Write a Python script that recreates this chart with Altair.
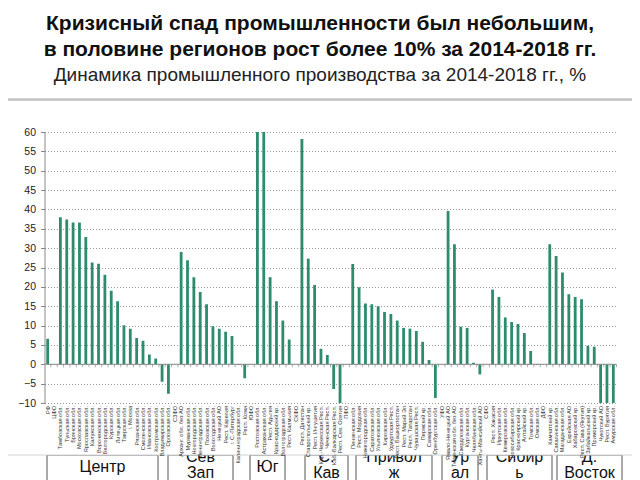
import altair as alt
import pandas as pd

# ---------------- data ----------------
categories = [
    "РФ", "ЦФО",
    "Тамбовская обл.", "Тульская обл.", "Брянская обл.", "Московская обл.", "Ярославская обл.",
    "Калужская обл.", "Воронежская обл.", "Белгородская обл.", "Курская обл.", "Липецкая обл.",
    "Тверская обл.", "г. Москва", "Рязанская обл.", "Смоленская обл.", "Ивановская обл.",
    "Костромская обл.", "Владимирская обл.", "Орловская обл.",
    "СЗФО",
    "Арханг. обл. без АО", "Мурманская обл.", "Новгородская обл.", "Ленинградская обл.",
    "Псковская обл.", "Вологодская обл.", "Ненецкий АО", "Респ. Карелия", "г. С.-Петербург",
    "Калининградская обл.", "Респ. Коми",
    "ЮФО",
    "Ростовская обл.", "Астраханская обл.", "Респ. Адыгея", "Краснодарский кр.",
    "Волгоградская обл.", "Респ. Калмыкия",
    "СКФО",
    "Респ. Дагестан", "Ставропольский кр.", "Респ. Ингушетия", "Кар.-Черкесская Респ.",
    "Чеченская Респ.", "Каб.-Балкарская Респ.", "Респ. Сев. Осетия",
    "ПФО",
    "Пензенская обл.", "Респ. Мордовия", "Нижегородская обл.", "Саратовская обл.",
    "Ульяновская обл.", "Кировская обл.", "Удмуртская Респ.", "Респ. Башкортостан",
    "Респ. Марий Эл", "Респ. Татарстан", "Чувашская Респ.", "Пермский кр.",
    "Самарская обл.", "Оренбургская обл.",
    "УФО",
    "Ямало-Ненецкий АО", "Тюменская обл. без АО", "Свердловская обл.", "Курганская обл.",
    "Челябинская обл.", "Ханты-Мансийский АО",
    "СФО",
    "Респ. Хакасия", "Иркутская обл.", "Кемеровская обл.", "Новосибирская обл.",
    "Красноярский кр.", "Алтайский кр.", "Томская обл.", "Омская обл.",
    "ДФО",
    "Камчатский кр.", "Сахалинская обл.", "Магаданская обл.", "Еврейская АО",
    "Хабаровский кр.", "Респ. Саха (Якутия)", "Забайкальский кр.", "Приморский кр.",
    "Чукотский АО", "Респ. Бурятия", "Амурская обл.",
]

values = [
    6.6, None,
    38.0, 37.4, 36.6, 36.6, 32.9, 26.3, 26.0, 23.1, 19.0, 16.3,
    10.1, 9.2, 6.8, 6.1, 2.5, 1.5, -4.5, -7.6,
    None,
    29.0, 26.9, 22.5, 18.7, 15.5, 9.8, 9.2, 8.4, 7.3, -0.2, -3.6,
    None,
    66.0, 62.0, 22.5, 16.3, 11.3, 6.4,
    None,
    58.2, 27.3, 20.5, 4.0, 2.4, -6.4, -11.0,
    None,
    25.9, 19.9, 15.7, 15.5, 15.0, 13.5, 13.0, 11.3, 9.4, 9.2, 8.6, 5.8, 1.1, -8.7,
    None,
    39.6, 31.0, 9.7, 9.4, 0.4, -2.6,
    None,
    19.3, 17.4, 12.1, 10.9, 10.4, 8.1, 3.4, -0.2,
    None,
    31.0, 28.0, 23.7, 18.1, 17.4, 16.8, 4.8, 4.5, -12.0, -11.0, -11.0,
]

y_ticks = [-10, -5, 0, 5, 10, 15, 20, 25, 30, 35, 40, 45, 50, 55, 60]

title_line1 = "Кризисный спад промышленности был небольшим,"
title_line2 = "в половине регионов рост более 10% за 2014-2018 гг."
subtitle = "Динамика промышленного производства за 2014-2018 гг., %"

district_line1 = ["Центр", "Сев", "Юг", "С.", "Привол", "Ур", "Сибир", "Д."]
district_line2 = ["", "Зап", "", "Кав", "ж", "ал", "ь", "Восток"]

# ---------------- layout (pixels, page coordinates) ----------------
ORIGIN_X, ORIGIN_Y = 44.5, 132.0       # top-left of plot area on page
PLOT_W, PLOT_H = 572, 271
box_left = [47, 168, 250, 305, 356, 442, 487, 557]
box_right = [158, 233, 285, 348, 432, 478, 552, 622]

def px(v):
    return v - ORIGIN_X

def py(v):
    return v - ORIGIN_Y

BAR_COLOR = "#2e8b6e"
FONT = "Liberation Sans"

df = pd.DataFrame({"cat": categories, "val": values})
df_zero = pd.DataFrame({"cat": categories, "val": [0.0] * len(categories)})

x_axis = alt.Axis(title=None, labelAngle=-90, labelFontSize=5.6, labelFont=FONT,
                  labelColor="#333333", ticks=False, domain=False, labelPadding=2.5,
                  labelLimit=0, labelOverlap=False, zindex=1)
y_axis = alt.Axis(title=None, values=y_ticks, grid=True, gridDash=[1, 2], gridColor="#9a9a9a",
                  gridWidth=1, domainColor="#8a8a8a", tickColor="#8a8a8a", tickSize=4,
                  labelFontSize=10.5, labelFont=FONT, labelColor="#222222", labelPadding=5)

def X():
    return alt.X("cat:N", sort=categories,
                 scale=alt.Scale(domain=categories, paddingInner=0, paddingOuter=0),
                 axis=x_axis)

def Y():
    return alt.Y("val:Q", scale=alt.Scale(domain=[-10, 60], nice=False, zero=False),
                 axis=y_axis)

bars = alt.Chart(df).mark_bar(size=2.8, color=BAR_COLOR, clip=True).encode(
    x=X(), y=Y())

zero_rule = alt.Chart(df_zero.head(1)).mark_rule(color="#8a8a8a", strokeWidth=1).encode(y=Y())

zero_ticks = alt.Chart(df_zero).mark_tick(
    orient="vertical", size=3, thickness=1, color="#8a8a8a", xOffset=3.18, yOffset=1.5
).encode(x=X(), y=Y())

main = alt.layer(bars, zero_rule, zero_ticks)

# district boxes under the chart
box_df = pd.DataFrame({
    "l1": district_line1, "l2": district_line2,
    "x1": [px(v) for v in box_left], "x2": [px(v) for v in box_right],
})
box_df["xc"] = (box_df["x1"] + box_df["x2"]) / 2
box_df["two"] = box_df["l2"] != ""

boxes = alt.Chart(box_df).mark_rect(fill="white", stroke="#555555", strokeWidth=1).encode(
    x=alt.X("x1:Q", scale=None), x2="x2:Q",
    y=alt.value(py(455)), y2=alt.value(py(505)))

box_text_single = alt.Chart(box_df).transform_filter("!datum.two").mark_text(
    fontSize=16, font=FONT, color="#111111", baseline="middle", align="center"
).encode(x=alt.X("xc:Q", scale=None), y=alt.value(py(467)), text="l1:N")

box_text_1 = alt.Chart(box_df).transform_filter("datum.two").mark_text(
    fontSize=16, font=FONT, color="#111111", baseline="middle", align="center"
).encode(x=alt.X("xc:Q", scale=None), y=alt.value(py(457)), text="l1:N")

box_text_2 = alt.Chart(box_df).transform_filter("datum.two").mark_text(
    fontSize=16, font=FONT, color="#111111", baseline="middle", align="center"
).encode(x=alt.X("xc:Q", scale=None), y=alt.value(py(472.5)), text="l2:N")

cover = alt.Chart(box_df.head(1)).mark_rect(fill="white", strokeWidth=0).encode(
    x=alt.value(px(7)), x2=alt.value(px(632)), y=alt.value(py(436)), y2=alt.value(py(455)))

panel = alt.Chart(box_df.head(1)).mark_rect(fill=None, stroke="#d2d2d2", strokeWidth=1).encode(
    x=alt.value(px(6)), x2=alt.value(px(633)), y=alt.value(py(100)), y2=alt.value(py(455)))

top_line = alt.Chart(box_df.head(1)).mark_rule(color="#c4c4c4", strokeWidth=2.5).encode(
    x=alt.value(px(5)), x2=alt.value(px(635)), y=alt.value(py(99.5)))

t_df = pd.DataFrame({"t": [title_line1, title_line2, subtitle]})
t1 = alt.Chart(t_df.iloc[[0]]).mark_text(
    fontSize=21, fontWeight="bold", font=FONT, color="#111111", align="center", baseline="middle"
).encode(text="t:N", x=alt.value(px(320)), y=alt.value(py(24)))
t2 = alt.Chart(t_df.iloc[[1]]).mark_text(
    fontSize=21, fontWeight="bold", font=FONT, color="#111111", align="center", baseline="middle"
).encode(text="t:N", x=alt.value(px(320)), y=alt.value(py(50)))
t3 = alt.Chart(t_df.iloc[[2]]).mark_text(
    fontSize=19, font=FONT, color="#222222", align="center", baseline="middle"
).encode(text="t:N", x=alt.value(px(320)), y=alt.value(py(75)))

deco = alt.layer(boxes, box_text_single, box_text_1, box_text_2, cover, panel, top_line, t1, t2, t3)

chart = alt.layer(main, deco).resolve_scale(x="independent").properties(
    width=PLOT_W, height=PLOT_H,
    autosize=alt.AutoSizeParams(type="none"),
    padding={"left": ORIGIN_X - 8, "top": ORIGIN_Y - 8, "right": 640 - 8 - ORIGIN_X - PLOT_W,
             "bottom": 110},
    background="white",
).configure_view(stroke=None)

chart.save("out.html", embed_options={"renderer": "svg", "actions": False})
